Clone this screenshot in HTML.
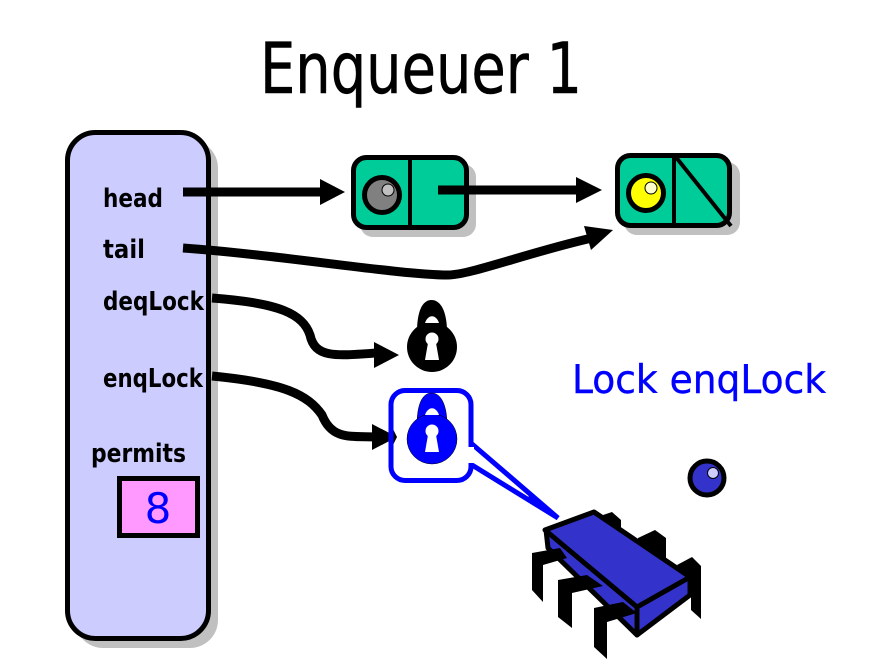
<!DOCTYPE html>
<html><head><meta charset="utf-8"><style>
html,body{margin:0;padding:0;background:#fff}
svg{display:block}
text{font-family:"DejaVu Sans","Liberation Sans",sans-serif}
.l{font-size:26px;font-weight:bold;fill:#000}
</style></head><body>
<svg width="889" height="659" viewBox="0 0 889 659" xmlns="http://www.w3.org/2000/svg">
<rect width="889" height="659" fill="#fff"/>
<text x="260" y="93" font-size="70" textLength="322" lengthAdjust="spacingAndGlyphs" fill="#000" stroke="#000" stroke-width="0.6">Enqueuer 1</text>
<!-- panel -->
<rect x="75" y="140" width="143" height="508" rx="28" fill="#c0c0c0"/>
<rect x="67.500" y="132.500" width="141" height="506" rx="28" fill="#ccccff" stroke="#000" stroke-width="5"/>
<text class="l" x="103" y="207" textLength="60" lengthAdjust="spacingAndGlyphs">head</text>
<text class="l" x="103" y="258" textLength="42" lengthAdjust="spacingAndGlyphs">tail</text>
<text class="l" x="103" y="310" textLength="101" lengthAdjust="spacingAndGlyphs">deqLock</text>
<text class="l" x="103" y="387" textLength="100" lengthAdjust="spacingAndGlyphs">enqLock</text>
<text class="l" x="91" y="462" textLength="95" lengthAdjust="spacingAndGlyphs">permits</text>
<rect x="119.500" y="478.500" width="78" height="57" fill="#ff99ff" stroke="#000" stroke-width="5"/>
<text x="158" y="523" font-size="42" text-anchor="middle" fill="#0000ff">8</text>
<!-- node 1 -->
<rect x="360" y="164" width="116" height="73" rx="13" fill="#c0c0c0"/>
<rect x="353.500" y="157.500" width="113" height="70" rx="13" fill="#00cc99" stroke="#000" stroke-width="5"/>
<line x1="410" y1="157" x2="410" y2="228" stroke="#000" stroke-width="4"/>
<circle cx="382" cy="195" r="17.500" fill="#808080" stroke="#000" stroke-width="5"/>
<circle cx="388" cy="190" r="6" fill="#c0c0c0" stroke="#000" stroke-width="1"/>
<!-- node 2 -->
<rect x="624" y="162" width="116" height="73" rx="13" fill="#c0c0c0"/>
<rect x="617.500" y="155.500" width="112" height="70" rx="13" fill="#00cc99" stroke="#000" stroke-width="5"/>
<line x1="674" y1="155" x2="674" y2="226" stroke="#000" stroke-width="4"/>
<line x1="675" y1="156" x2="731" y2="226" stroke="#000" stroke-width="4"/>
<circle cx="646" cy="193" r="17.500" fill="#ffff00" stroke="#000" stroke-width="5"/>
<circle cx="651" cy="188" r="6" fill="#ffffcc" stroke="#000" stroke-width="1"/>
<!-- arrows -->
<g fill="none" stroke="#000" stroke-width="9">
<path d="M183 192H322"/>
<path d="M438 190H578"/>
<path d="M183 248C280 255 400 275 448 275C470 275 530 252 592 238"/>
<path d="M212 298C280 303 303 314 310 335C315 358 335 356 376 353"/>
<path d="M212 376C285 383 308 395 322 415C332 440 350 436 376 437"/>
</g>
<polygon points="320,179 345,192 320,205"/>
<polygon points="576,177 602,190 576,203"/>
<polygon points="584,226 613,230 591,250"/>
<polygon points="374,342 399,355 374,368"/>
<!-- black lock -->
<path d="M417 332C417 312 422 300 431.500 300C441 300 447 312 447 332Z" fill="#000"/>
<circle cx="432" cy="347" r="25" fill="#000"/>
<path d="M425 323C428 314 436 314 439 323Z" fill="#fff"/>
<circle cx="432" cy="339" r="6.500" fill="#fff"/>
<polygon points="428.500,340 435.500,340 439,360 425,360" fill="#fff"/>
<!-- callout -->
<path d="M472 444L558 518L472 465" fill="#fff" stroke="#0000ff" stroke-width="5" stroke-linejoin="miter" stroke-miterlimit="3"/>
<polygon points="532,495 558,518 525,498" fill="#0000ff"/>
<polygon points="372,424 397,437 372,450"/>
<rect x="391" y="390.500" width="80" height="90" rx="14" fill="none" stroke="#0000ff" stroke-width="5"/>
<path d="M471 447V463" stroke="#fff" stroke-width="6"/>
<polygon points="393.500,430 397,437 393.500,444"/>
<rect x="394" y="393" width="75" height="85" rx="12" fill="#fff" opacity="0"/>
<!-- blue lock -->
<path d="M417 425C417 405 422 393 431.500 393C441 393 447 405 447 425Z" fill="#0000ff" stroke="#000" stroke-width="0.500"/>
<circle cx="432" cy="439" r="25" fill="#0000ff" stroke="#000" stroke-width="0.500"/>
<path d="M425 415C428 406 436 406 439 415Z" fill="#fff"/>
<circle cx="432" cy="431" r="6.500" fill="#fff"/>
<polygon points="428.500,432 435.500,432 439,452 425,452" fill="#fff"/>
<!-- text -->
<text x="572" y="393" font-size="39" textLength="254" lengthAdjust="spacingAndGlyphs" fill="#0000ff" stroke="#0000ff" stroke-width="0.4">Lock enqLock</text>
<!-- ball -->
<circle cx="707" cy="478" r="17" fill="#3333cc" stroke="#000" stroke-width="5"/>
<circle cx="713" cy="473" r="5.500" fill="#ccccff" stroke="#000" stroke-width="1"/>
<!-- robot -->
<g fill="#000">
<polygon points="600,516 612,512 621,520 621,534 605,528"/>
<polygon points="638,538 655,530 666,538 666,562 638,550"/>
<polygon points="677,565 692,557 701,566 701,619 691,610 691,580"/>
</g>
<polygon points="546,530 637,607 637,635 548,548" fill="#3333cc" stroke="#000" stroke-width="5" stroke-linejoin="round"/>
<polygon points="637,607 690,577 690,595 637,635" fill="#3333cc" stroke="#000" stroke-width="5" stroke-linejoin="round"/>
<polygon points="545,530 594,512 690,577 637,607" fill="#3333cc" stroke="#000" stroke-width="5" stroke-linejoin="round"/>
<g fill="#000">
<polygon points="532,553 560,548 567,558 543,565 543,602 532,590"/>
<polygon points="558,580 587,575 603,586 572,593 572,628 558,617"/>
<polygon points="594,608 623,602 637,613 607,622 607,659 594,647"/>
</g>
</svg>
</body></html>
